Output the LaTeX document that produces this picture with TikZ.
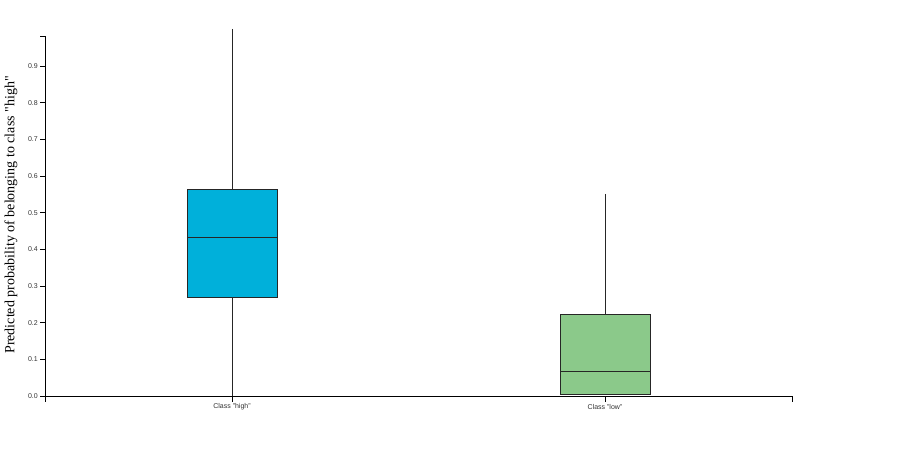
\documentclass[tikz,border=0pt]{standalone}
\usepackage{fontspec}
\setmainfont{Liberation Sans}
\newfontfamily\serifx{Liberation Serif}
\definecolor{hb}{HTML}{00B0DA}
\definecolor{lb}{HTML}{8BC98A}
\begin{document}
\begin{tikzpicture}[x=1pt,y=-1pt,
  tick/.style={font=\fontsize{7}{8}\selectfont, text=black!80},
  ax/.style={draw=black, line width=0.8pt},
  boxs/.style={draw=black!85, line width=0.8pt}]
\useasboundingbox (0,0) rectangle (899,449);
% y axis
\draw[ax] (40,36) -- (45,36) -- (45,396) -- (792,396) -- (792,402);
\draw[ax] (45,396) -- (45,402);
\foreach \v [count=\i from 0] in {0.0,0.1,0.2,0.3,0.4,0.5,0.6,0.7,0.8,0.9}{
  \pgfmathsetmacro\yy{396-36.67*\i}
  \draw[ax] (40,\yy) -- (45,\yy);
  \node[tick, anchor=east, inner sep=1pt] (t\i) at (39,\yy) {\v};
}
\node[font=\serifx\fontsize{14}{16}\selectfont, rotate=90] (yl) at (11,215) {Predicted probability of belonging to class "high"};
% high
\draw[ax] (232,396) -- (232,402);
\node[tick] (xh) at (232,407) {Class "high"};
\draw[black!85, line width=0.8pt] (232,29) -- (232,396);
\filldraw[boxs, fill=hb] (187,189) rectangle (277,297);
\draw[boxs] (187,237) -- (277,237);
% low
\draw[ax] (605,396) -- (605,402);
\node[tick] (xl) at (605,407) {Class "low"};
\draw[black!85, line width=0.8pt] (605,194) -- (605,394);
\filldraw[boxs, fill=lb] (560,314) rectangle (650,394);
\draw[boxs] (560,371) -- (650,371);
\end{tikzpicture}
\end{document}
